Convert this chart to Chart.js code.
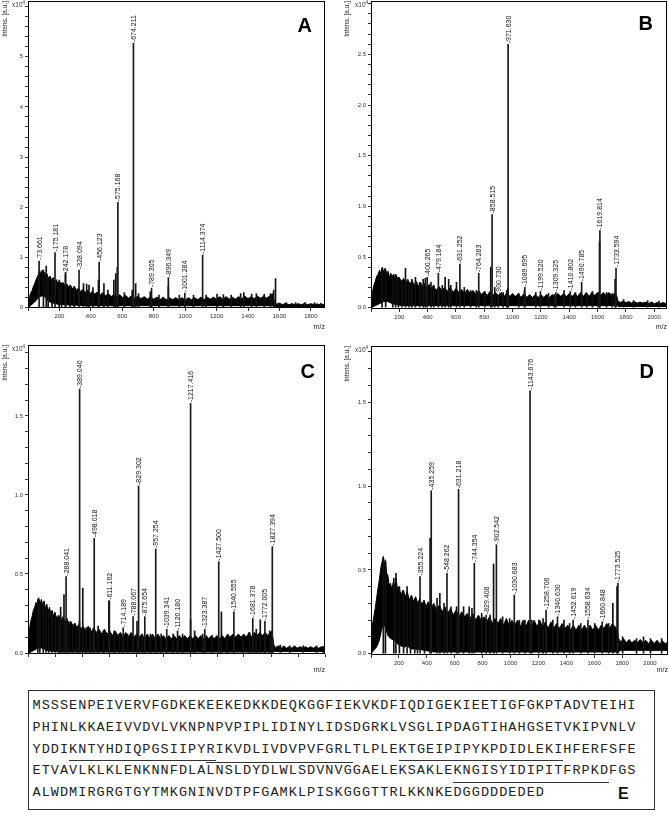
<!DOCTYPE html>
<html>
<head>
<meta charset="utf-8">
<script src="https://cdn.jsdelivr.net/npm/chart.js@4.4.0/dist/chart.umd.min.js"></script>
<style>
  body { margin: 0; background: #fff; width: 669px; height: 817px; position: relative; overflow: hidden; }
  .pan { position: absolute; }
  #seq {
    position: absolute; left: 28px; top: 690px; width: 621px; height: 114px;
    border: 1.5px solid #333; padding: 4.4px 0 0 3.5px; box-sizing: content-box;
    font-family: "Liberation Mono", "Courier New", monospace; font-size: 13.5px;
    letter-spacing: 1.05px; line-height: 21.67px; color: #222; white-space: pre;
  }
  #seq .u { border-bottom: 1px solid #333; padding-bottom: 3.6px; }
  #seq .u2 { border-bottom: 1px solid #333; padding-bottom: 5.3px; }
  #seq .tag {
    position: absolute; left: 589px; top: 94px; font: bold 16px "Liberation Sans", Arial, sans-serif;
    letter-spacing: 0; color: #111;
  }
</style>
</head>
<body>
<div class="pan" style="left:0;top:0"><canvas id="cA" width="335" height="334"></canvas></div>
<div class="pan" style="left:335px;top:0"><canvas id="cB" width="334" height="334"></canvas></div>
<div class="pan" style="left:0;top:335px"><canvas id="cC" width="335" height="343"></canvas></div>
<div class="pan" style="left:335px;top:335px"><canvas id="cD" width="334" height="343"></canvas></div>
<div id="seq"><div>MSSSENPEIVERVFGDKEKEEKEDKKDEQKGGFIEKVKDFIQDIGEKIEETIGFGKPTADVTEIHI</div><div>PHINLKKAEIVVDVLVKNPNPVPIPLIDINYLIDSDGRKLVSGLIPDAGTIHAHGSETVKIPVNLV</div><div>YDDI<span class="u">KNTYHDIQPGSIIPY<span class="u2">R</span></span><span class="u2">IKVDLIVDVPVFGRL</span>TLPLE<span class="u">KTGEIPIPYKPDIDLEKI</span>HFERFSFE</div><div>ETVAVLKLKLENKNNFDLALNSLDYDLWLSDVNVGGAELEKSAKLE<span class="u">KNGISYIDIPITFRPKD</span>FGS</div><div>ALWDMIRGRGTGYTMKGNINVDTPFGAMKLPISKGGGTTRLKKNKEDGGDDDEDED</div><span class="tag">E</span></div>
<script>
// ---- panel A (intensity x10^4) ----
const aHiMz = [2, 10, 18, 26, 34, 42, 50, 58, 66, 74, 82, 90, 98, 106, 114, 122, 130, 140, 150, 160, 170, 180, 190, 200, 212, 224, 236, 248, 260, 272, 284, 296, 308, 320, 335, 350, 365, 380, 395, 410, 425, 440, 458, 476, 494, 512, 530, 548, 566, 584, 602, 620, 640, 660, 680, 700, 720, 740, 760, 780, 800, 820, 840, 860, 880, 900, 920, 940, 960, 980, 1000, 1020, 1040, 1060, 1080, 1100, 1120, 1140, 1160, 1180, 1200, 1220, 1240, 1260, 1280, 1300, 1320, 1340, 1360, 1380, 1400, 1420, 1440, 1460, 1480, 1500, 1520, 1540, 1555, 1562, 1568, 1580, 1600, 1620, 1640, 1660, 1680, 1700, 1720, 1740, 1760, 1780, 1800, 1820, 1840, 1860, 1888];
const aHi = [0.15, 0.22, 0.3, 0.34, 0.42, 0.47, 0.55, 0.6, 0.66, 0.74, 0.66, 0.75, 0.64, 0.71, 0.6, 0.67, 0.57, 0.63, 0.53, 0.6, 0.5, 0.56, 0.48, 0.53, 0.45, 0.5, 0.42, 0.47, 0.4, 0.44, 0.37, 0.42, 0.35, 0.39, 0.32, 0.37, 0.3, 0.35, 0.28, 0.33, 0.27, 0.31, 0.25, 0.3, 0.24, 0.28, 0.22, 0.27, 0.21, 0.26, 0.2, 0.25, 0.19, 0.24, 0.19, 0.23, 0.18, 0.22, 0.17, 0.22, 0.17, 0.21, 0.16, 0.21, 0.16, 0.2, 0.16, 0.2, 0.16, 0.2, 0.15, 0.2, 0.16, 0.2, 0.16, 0.21, 0.16, 0.21, 0.17, 0.21, 0.17, 0.22, 0.17, 0.22, 0.17, 0.21, 0.17, 0.22, 0.18, 0.23, 0.18, 0.22, 0.18, 0.23, 0.19, 0.23, 0.19, 0.24, 0.28, 0.2, 0.12, 0.07, 0.09, 0.06, 0.09, 0.06, 0.08, 0.06, 0.08, 0.06, 0.085, 0.06, 0.08, 0.06, 0.075, 0.06, 0.07];
const aLoMz = [2, 18, 34, 50, 66, 82, 98, 114, 130, 150, 180, 220, 300, 400, 1560, 1575, 1888];
const aLo = [0, 0.05, 0.09, 0.14, 0.2, 0.23, 0.24, 0.19, 0.13, 0.1, 0.075, 0.06, 0.05, 0.04, 0.04, 0.02, 0.02];
const aSpikeMz = [95, 113, 125, 150, 195, 210, 235, 265, 290, 350, 370, 385, 410, 445, 480, 505, 543, 555, 565, 610, 660, 682, 700, 775, 830, 890, 960, 1050, 1130, 1200, 1240, 1290, 1350, 1370, 1420, 1450, 1500, 1540, 1560, 1572, 1640, 1700, 1760, 1820, 1860];
const aSpikeInt = [0.75, 0.83, 0.6, 0.58, 0.55, 0.5, 0.7, 0.45, 0.42, 0.48, 0.47, 0.45, 0.4, 0.55, 0.48, 0.35, 0.55, 0.68, 0.8, 0.3, 0.35, 0.48, 0.28, 0.32, 0.25, 0.42, 0.25, 0.25, 0.25, 0.27, 0.26, 0.25, 0.28, 0.3, 0.27, 0.28, 0.27, 0.28, 0.35, 0.58, 0.1, 0.1, 0.1, 0.1, 0.09];
const aPeakMz = [73.661, 175.181, 242.178, 328.094, 456.123, 575.168, 674.211, 789.305, 896.349, 1001.284, 1114.374];
const aPeakInt = [0.93, 1.10, 0.66, 0.75, 0.91, 2.10, 5.27, 0.39, 0.60, 0.29, 1.05];
const aPeakLabel = ['73.661', '175.181', '242.178', '328.094', '456.123', '575.168', '674.211', '789.305', '896.349', '1001.284', '1114.374'];

// ---- panel B ----
const bHiMz = [0, 10, 20, 30, 40, 50, 60, 70, 80, 90, 100, 110, 120, 130, 140, 150, 160, 170, 180, 190, 200, 215, 230, 245, 260, 275, 290, 305, 320, 335, 350, 365, 380, 395, 410, 425, 440, 460, 480, 500, 520, 540, 560, 580, 600, 620, 640, 660, 680, 700, 720, 740, 760, 780, 800, 820, 840, 860, 880, 900, 920, 940, 960, 980, 1000, 1020, 1040, 1060, 1080, 1100, 1120, 1140, 1160, 1180, 1200, 1220, 1240, 1260, 1280, 1300, 1320, 1340, 1360, 1380, 1400, 1420, 1440, 1460, 1480, 1500, 1520, 1540, 1560, 1580, 1600, 1620, 1640, 1660, 1680, 1700, 1720, 1735, 1742, 1760, 1780, 1800, 1820, 1840, 1860, 1880, 1900, 1920, 1940, 1960, 1980, 2000, 2020, 2040, 2060, 2090];
const bHi = [0.07, 0.15, 0.22, 0.26, 0.31, 0.33, 0.37, 0.34, 0.4, 0.35, 0.39, 0.33, 0.36, 0.3, 0.34, 0.29, 0.33, 0.28, 0.32, 0.27, 0.3, 0.25, 0.29, 0.24, 0.28, 0.23, 0.27, 0.22, 0.26, 0.21, 0.25, 0.2, 0.24, 0.19, 0.23, 0.18, 0.22, 0.17, 0.21, 0.17, 0.2, 0.16, 0.2, 0.15, 0.19, 0.15, 0.18, 0.14, 0.18, 0.14, 0.17, 0.13, 0.17, 0.13, 0.16, 0.12, 0.16, 0.12, 0.15, 0.12, 0.15, 0.11, 0.15, 0.11, 0.14, 0.11, 0.14, 0.1, 0.14, 0.1, 0.13, 0.1, 0.13, 0.1, 0.13, 0.1, 0.13, 0.1, 0.13, 0.1, 0.14, 0.11, 0.14, 0.11, 0.14, 0.11, 0.14, 0.11, 0.15, 0.11, 0.15, 0.11, 0.15, 0.12, 0.15, 0.12, 0.15, 0.12, 0.15, 0.12, 0.14, 0.12, 0.07, 0.05, 0.065, 0.05, 0.06, 0.045, 0.06, 0.045, 0.055, 0.045, 0.055, 0.04, 0.055, 0.04, 0.05, 0.04, 0.05, 0.04];
const bLoMz = [0, 30, 60, 90, 120, 150, 180, 220, 1740, 1745, 2090];
const bLo = [0, 0.02, 0.04, 0.06, 0.06, 0.04, 0.03, 0.02, 0.02, 0.012, 0.012];
const bSpikeMz = [75, 100, 150, 170, 190, 215, 240, 265, 285, 310, 340, 365, 380, 420, 440, 500, 520, 545, 560, 600, 655, 700, 740, 800, 842, 870, 930, 955, 962, 1040, 1080, 1160, 1250, 1290, 1360, 1440, 1520, 1560, 1600, 1610, 1660, 1700, 1720, 1780, 1850, 1950, 2030];
const bSpikeInt = [0.39, 0.37, 0.32, 0.33, 0.3, 0.27, 0.39, 0.25, 0.28, 0.3, 0.25, 0.28, 0.29, 0.25, 0.22, 0.22, 0.3, 0.28, 0.22, 0.25, 0.2, 0.17, 0.17, 0.16, 0.4, 0.2, 0.15, 0.17, 0.19, 0.14, 0.17, 0.15, 0.14, 0.13, 0.17, 0.15, 0.14, 0.16, 0.15, 0.65, 0.15, 0.14, 0.28, 0.08, 0.07, 0.07, 0.065];
const bPeakMz = [400.265, 479.184, 631.252, 764.283, 858.515, 900.730, 971.630, 1089.695, 1199.520, 1309.325, 1410.802, 1490.785, 1619.814, 1733.594];
const bPeakInt = [0.3, 0.34, 0.43, 0.34, 0.92, 0.125, 2.60, 0.2, 0.16, 0.15, 0.16, 0.25, 0.76, 0.39];
const bPeakLabel = ['400.265', '479.184', '631.252', '764.283', '858.515', '900.730', '971.630', '1089.695', '1199.520', '1309.325', '1410.802', '1490.785', '1619.814', '1733.594'];

// ---- panel C ----
const cHiMz = [0, 10, 20, 30, 40, 50, 60, 70, 80, 90, 100, 110, 120, 130, 140, 150, 160, 170, 180, 190, 200, 215, 230, 245, 260, 275, 290, 305, 320, 335, 350, 365, 380, 395, 410, 430, 450, 470, 490, 510, 530, 550, 570, 590, 610, 630, 650, 670, 690, 710, 730, 750, 770, 790, 810, 830, 850, 870, 890, 910, 930, 950, 970, 990, 1010, 1030, 1050, 1070, 1090, 1110, 1130, 1150, 1170, 1190, 1210, 1230, 1250, 1270, 1290, 1310, 1330, 1350, 1370, 1390, 1410, 1430, 1450, 1470, 1490, 1510, 1530, 1550, 1570, 1590, 1610, 1630, 1650, 1670, 1690, 1710, 1730, 1750, 1770, 1790, 1810, 1828, 1835, 1850, 1870, 1890, 1910, 1930, 1950, 1970, 1990, 2010, 2030, 2050, 2070, 2090, 2110, 2130, 2150, 2170, 2190, 2217];
const cHi = [0.06, 0.14, 0.2, 0.23, 0.27, 0.29, 0.32, 0.3, 0.35, 0.31, 0.34, 0.3, 0.33, 0.28, 0.31, 0.26, 0.29, 0.25, 0.27, 0.23, 0.26, 0.22, 0.24, 0.2, 0.23, 0.19, 0.22, 0.18, 0.2, 0.17, 0.19, 0.16, 0.18, 0.15, 0.17, 0.14, 0.17, 0.13, 0.16, 0.13, 0.15, 0.12, 0.15, 0.12, 0.14, 0.11, 0.14, 0.11, 0.13, 0.1, 0.13, 0.1, 0.13, 0.1, 0.12, 0.1, 0.12, 0.09, 0.12, 0.09, 0.12, 0.09, 0.12, 0.09, 0.11, 0.09, 0.11, 0.09, 0.11, 0.09, 0.11, 0.09, 0.11, 0.09, 0.11, 0.09, 0.11, 0.09, 0.11, 0.09, 0.11, 0.09, 0.11, 0.09, 0.11, 0.09, 0.11, 0.09, 0.12, 0.1, 0.12, 0.1, 0.12, 0.1, 0.12, 0.1, 0.13, 0.1, 0.13, 0.11, 0.13, 0.11, 0.13, 0.11, 0.13, 0.1, 0.05, 0.035, 0.045, 0.03, 0.045, 0.03, 0.04, 0.03, 0.045, 0.03, 0.04, 0.03, 0.04, 0.03, 0.04, 0.03, 0.04, 0.03, 0.04, 0.035];
const cLoMz = [0, 20, 40, 60, 80, 100, 120, 150, 180, 250, 1835, 1840, 2217];
const cLo = [0, 0.006, 0.015, 0.025, 0.032, 0.032, 0.025, 0.015, 0.01, 0.006, 0.006, 0.01, 0.01];
const cSpikeMz = [70, 85, 110, 130, 150, 175, 200, 225, 240, 265, 300, 330, 360, 380, 405, 430, 460, 480, 520, 560, 600, 640, 680, 740, 810, 850, 910, 990, 1080, 1150, 1210, 1240, 1300, 1370, 1440, 1480, 1600, 1650, 1700, 1730, 1800, 1815, 1880, 1950, 2050, 2150, 2200];
const cSpikeInt = [0.34, 0.32, 0.3, 0.28, 0.26, 0.24, 0.22, 0.22, 0.29, 0.37, 0.2, 0.18, 0.17, 0.2, 0.41, 0.16, 0.16, 0.15, 0.17, 0.14, 0.33, 0.14, 0.12, 0.12, 0.2, 0.12, 0.12, 0.12, 0.12, 0.12, 0.21, 0.14, 0.12, 0.11, 0.26, 0.11, 0.11, 0.13, 0.15, 0.21, 0.14, 0.14, 0.05, 0.045, 0.045, 0.045, 0.04];
const cPeakMz = [288.041, 389.040, 498.018, 611.162, 714.189, 788.067, 829.302, 875.654, 957.254, 1039.341, 1120.180, 1217.416, 1323.387, 1427.500, 1540.555, 1681.378, 1772.005, 1827.394];
const cPeakInt = [0.483, 1.67, 0.726, 0.33, 0.16, 0.23, 1.057, 0.23, 0.658, 0.15, 0.14, 1.58, 0.15, 0.578, 0.26, 0.22, 0.2, 0.673];
const cPeakLabel = ['288.041', '389.040', '498.018', '611.162', '714.189', '788.067', '829.302', '875.654', '957.254', '1039.341', '1120.180', '1217.416', '1323.387', '1427.500', '1540.555', '1681.378', '1772.005', '1827.394'];

// ---- panel D ----
const dHiMz = [0, 10, 20, 30, 40, 50, 60, 70, 80, 88, 96, 104, 112, 120, 130, 140, 150, 160, 170, 180, 190, 200, 215, 230, 245, 260, 275, 290, 305, 320, 335, 350, 365, 380, 395, 410, 430, 450, 470, 490, 510, 530, 550, 570, 590, 610, 630, 650, 670, 690, 710, 730, 750, 770, 790, 810, 830, 850, 870, 890, 910, 930, 950, 970, 990, 1010, 1030, 1050, 1070, 1090, 1110, 1130, 1150, 1170, 1190, 1210, 1230, 1250, 1270, 1290, 1310, 1330, 1350, 1370, 1390, 1410, 1430, 1450, 1470, 1490, 1510, 1530, 1550, 1570, 1590, 1610, 1630, 1650, 1670, 1690, 1710, 1730, 1750, 1765, 1775, 1790, 1810, 1830, 1850, 1870, 1890, 1910, 1930, 1950, 1970, 1990, 2010, 2030, 2050, 2070, 2090, 2110, 2129];
const dHi = [0.12, 0.17, 0.22, 0.27, 0.33, 0.39, 0.44, 0.51, 0.55, 0.58, 0.53, 0.56, 0.48, 0.47, 0.41, 0.42, 0.38, 0.43, 0.4, 0.45, 0.38, 0.4, 0.35, 0.38, 0.34, 0.37, 0.32, 0.35, 0.31, 0.34, 0.3, 0.33, 0.29, 0.32, 0.28, 0.31, 0.27, 0.3, 0.26, 0.29, 0.25, 0.28, 0.24, 0.27, 0.23, 0.26, 0.22, 0.25, 0.22, 0.24, 0.21, 0.24, 0.2, 0.23, 0.2, 0.22, 0.19, 0.22, 0.18, 0.21, 0.18, 0.21, 0.17, 0.21, 0.17, 0.2, 0.17, 0.2, 0.16, 0.2, 0.16, 0.2, 0.16, 0.2, 0.16, 0.2, 0.16, 0.19, 0.15, 0.19, 0.15, 0.18, 0.15, 0.18, 0.15, 0.17, 0.14, 0.17, 0.14, 0.17, 0.14, 0.17, 0.14, 0.17, 0.14, 0.17, 0.14, 0.17, 0.15, 0.18, 0.15, 0.18, 0.16, 0.14, 0.09, 0.07, 0.09, 0.065, 0.085, 0.065, 0.08, 0.065, 0.085, 0.065, 0.08, 0.06, 0.08, 0.06, 0.08, 0.06, 0.075, 0.06, 0.07];
const dLoMz = [0, 20, 40, 60, 75, 90, 105, 120, 140, 170, 200, 240, 260, 280, 350, 450, 1775, 1790, 2129];
const dLo = [0, 0.02, 0.04, 0.08, 0.14, 0.18, 0.15, 0.11, 0.09, 0.08, 0.05, 0.04, 0.05, 0.03, 0.025, 0.01, 0.01, 0.02, 0.02];
const dSpikeMz = [85, 100, 160, 175, 200, 230, 255, 280, 310, 330, 380, 420, 470, 490, 520, 570, 610, 660, 700, 720, 790, 850, 875, 940, 990, 1060, 1100, 1150, 1200, 1230, 1300, 1380, 1420, 1500, 1600, 1700, 1730, 1760, 1800, 1900, 1950, 2000, 2080];
const dSpikeInt = [0.57, 0.55, 0.45, 0.48, 0.4, 0.37, 0.4, 0.33, 0.31, 0.3, 0.3, 0.688, 0.33, 0.36, 0.3, 0.28, 0.28, 0.28, 0.28, 0.27, 0.24, 0.23, 0.535, 0.22, 0.21, 0.2, 0.2, 0.2, 0.2, 0.21, 0.2, 0.2, 0.18, 0.18, 0.18, 0.18, 0.3, 0.4, 0.1, 0.09, 0.1, 0.09, 0.09];
const dPeakMz = [355.224, 435.259, 548.262, 631.218, 744.354, 829.408, 902.542, 1030.683, 1143.676, 1258.706, 1340.630, 1452.619, 1558.634, 1660.848, 1773.525];
const dPeakInt = [0.46, 0.972, 0.48, 0.98, 0.54, 0.23, 0.65, 0.35, 1.568, 0.26, 0.22, 0.2, 0.2, 0.19, 0.42];
const dPeakLabel = ['355.224', '435.259', '548.262', '631.218', '744.354', '829.408', '902.542', '1030.683', '1143.676', '1258.706', '1340.630', '1452.619', '1558.634', '1660.848', '1773.525'];

const SANS = '"Liberation Sans", Arial, sans-serif';

// fills the noise band between the upper (dataset 0) and lower (dataset 1) envelope lines
const band = {
  id: 'band',
  beforeDatasetsDraw(chart) {
    const hi = chart.getDatasetMeta(0).data;
    const lo = chart.getDatasetMeta(1).data;
    const { ctx, chartArea: a } = chart;
    ctx.save();
    ctx.beginPath();
    ctx.rect(a.left, a.top, a.width, a.height);
    ctx.clip();
    ctx.beginPath();
    hi.forEach((p, i) => (i ? ctx.lineTo(p.x, p.y) : ctx.moveTo(p.x, p.y)));
    for (let i = lo.length - 1; i >= 0; i--) ctx.lineTo(lo[i].x, lo[i].y);
    ctx.closePath();
    ctx.fillStyle = '#000';
    ctx.fill();
    ctx.restore();
  }
};

const decor = {
  id: 'decor',
  afterDatasetsDraw(chart, args, o) {
    const { ctx, chartArea: a, scales: { x, y } } = chart;
    ctx.save();
    // peak labels
    ctx.font = '7px ' + SANS;
    ctx.fillStyle = '#111';
    ctx.textAlign = 'left';
    ctx.textBaseline = 'middle';
    o.mz.forEach((m, i) => {
      if (!o.labels[i]) return;
      ctx.save();
      ctx.translate(Math.round(x.getPixelForValue(m)) + 0.5, y.getPixelForValue(o.int[i]) - 1);
      ctx.rotate(-Math.PI / 2);
      ctx.fillText('-' + o.labels[i], 0, 0);
      ctx.restore();
    });
    // frame
    ctx.strokeStyle = '#000';
    ctx.lineWidth = 1;
    ctx.strokeRect(Math.round(a.left) + 0.5, Math.round(a.top) + 0.5, Math.round(a.width) - 1, Math.round(a.height) - 1);
    // exponent
    ctx.fillStyle = '#333';
    ctx.textBaseline = 'top';
    ctx.textAlign = 'right';
    ctx.font = '4.5px ' + SANS;
    ctx.fillText('4', a.left - 3, a.top);
    const w4 = ctx.measureText('4').width;
    ctx.font = '6.5px ' + SANS;
    ctx.fillText('x10', a.left - 3 - w4, a.top + 1);
    // panel letter
    ctx.fillStyle = '#000';
    ctx.font = 'bold 20px ' + SANS;
    ctx.textBaseline = 'alphabetic';
    ctx.fillText(o.letter, a.right - o.lx, a.top + o.ly);
    ctx.restore();
  }
};

function spectrum(id, p) {
  const pts = (xs, ys) => xs.map((v, i) => ({ x: v, y: ys[i] }));
  return new Chart(document.getElementById(id), {
    type: 'line',
    data: {
      datasets: [
        { data: pts(p.hiMz, p.hi), fill: false, borderColor: '#000', borderWidth: 1, pointRadius: 0, tension: 0, order: 3 },
        { data: pts(p.loMz, p.lo), fill: false, borderColor: '#000', borderWidth: 1, pointRadius: 0, tension: 0, order: 2 },
        { type: 'bar', data: pts(p.spikeMz, p.spikeInt), backgroundColor: '#111', barThickness: 1, order: 1 },
        { type: 'bar', data: pts(p.peakMz, p.peakInt), backgroundColor: '#1a1a1a', barThickness: 1, order: 0 }
      ]
    },
    options: {
      responsive: false,
      animation: false,
      events: [],
      layout: { padding: p.pad },
      plugins: {
        legend: { display: false },
        tooltip: { enabled: false },
        decor: { mz: p.peakMz, int: p.peakInt, labels: p.peakLabel, letter: p.letter, lx: p.lx, ly: p.ly }
      },
      scales: {
        x: {
          type: 'linear', min: 0, max: p.xMax, offset: false,
          grid: { display: true, drawOnChartArea: false, tickLength: 3, color: '#333', offset: false },
          border: { display: false },
          ticks: {
            stepSize: 200, includeBounds: false, autoSkip: false, maxRotation: 0, padding: 2,
            color: '#333', font: { family: SANS, size: 6 },
            callback: v => (v > 0 && v % 200 === 0 ? String(v) : '')
          },
          title: { display: true, text: 'm/z', align: 'end', color: '#222', font: { family: SANS, size: 7 }, padding: { top: 0, bottom: p.xTitlePad } },
          afterFit: s => { s.height = p.xAxisH; s.paddingLeft = 0; s.paddingRight = 0; }
        },
        y: {
          min: p.yMin, max: p.yMax,
          grid: { display: true, drawOnChartArea: false, tickLength: 3, color: '#333' },
          border: { display: false },
          ticks: {
            stepSize: p.yStep, includeBounds: false, autoSkip: false, padding: 2,
            color: '#333', font: { family: SANS, size: 6 },
            callback: p.yFmt
          },
          title: { display: true, text: 'Intens. [a.u.]', align: 'end', color: '#222', font: { family: SANS, size: 6.5 }, padding: { top: p.yTitlePad, bottom: 0 } },
          afterFit: s => { s.width = p.yAxisW; s.paddingTop = 0; s.paddingBottom = 0; }
        }
      }
    },
    plugins: [band, decor]
  });
}

const near = (v, step) => Math.abs(v / step - Math.round(v / step)) < 1e-6;
const fmtInt = v => (near(v, 1) && v < 5.5 ? String(Math.round(v)) : '');
const fmtHalf = top => v => (near(v, 0.5) && v < top ? v.toFixed(1) : '');

spectrum('cA', {
  hiMz: aHiMz, hi: aHi, loMz: aLoMz, lo: aLo, spikeMz: aSpikeMz, spikeInt: aSpikeInt,
  peakMz: aPeakMz, peakInt: aPeakInt, peakLabel: aPeakLabel,
  xMax: 1890, yMin: -0.006, yMax: 6.11, yStep: 0.2, yFmt: fmtInt,
  pad: { top: 1, right: 10, left: 0, bottom: 0 }, yAxisW: 28, xAxisH: 26, xTitlePad: 3, yTitlePad: 1,
  letter: 'A', lx: 13, ly: 31
});
spectrum('cB', {
  hiMz: bHiMz, hi: bHi, loMz: bLoMz, lo: bLo, spikeMz: bSpikeMz, spikeInt: bSpikeInt,
  peakMz: bPeakMz, peakInt: bPeakInt, peakLabel: bPeakLabel,
  xMax: 2090, yMin: -0.013, yMax: 3.027, yStep: 0.1, yFmt: fmtHalf(2.8),
  pad: { top: 1, right: 2, left: 0, bottom: 0 }, yAxisW: 36, xAxisH: 25, xTitlePad: 3, yTitlePad: 8,
  letter: 'B', lx: 14, ly: 29
});
spectrum('cC', {
  hiMz: cHiMz, hi: cHi, loMz: cLoMz, lo: cLo, spikeMz: cSpikeMz, spikeInt: cSpikeInt,
  peakMz: cPeakMz, peakInt: cPeakInt, peakLabel: cPeakLabel,
  xMax: 2217, yMin: -0.0063, yMax: 1.949, yStep: 0.1, yFmt: fmtHalf(1.8),
  pad: { top: 10, right: 10, left: 0, bottom: 0 }, yAxisW: 28, xAxisH: 24, xTitlePad: 4, yTitlePad: 1,
  letter: 'C', lx: 10, ly: 33
});
spectrum('cD', {
  hiMz: dHiMz, hi: dHi, loMz: dLoMz, lo: dLo, spikeMz: dSpikeMz, spikeInt: dSpikeInt,
  peakMz: dPeakMz, peakInt: dPeakInt, peakLabel: dPeakLabel,
  xMax: 2129, yMin: -0.0078, yMax: 1.835, yStep: 0.1, yFmt: fmtHalf(1.8),
  pad: { top: 11, right: 1, left: 0, bottom: 0 }, yAxisW: 36, xAxisH: 23, xTitlePad: 4, yTitlePad: 8,
  letter: 'D', lx: 14, ly: 32
});
</script>
</body>
</html>
